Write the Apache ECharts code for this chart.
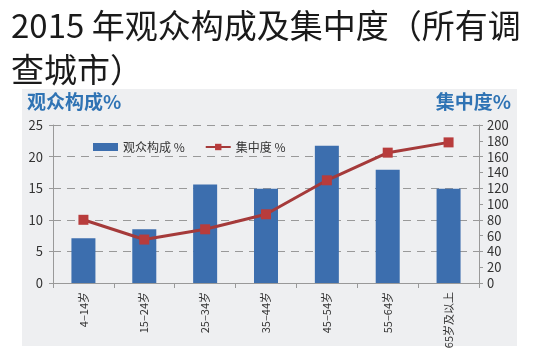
<!DOCTYPE html>
<html>
<head>
<meta charset="utf-8">
<script src="https://cdn.jsdelivr.net/npm/echarts@6/dist/echarts.min.js"></script>
<style>
  html, body { margin: 0; padding: 0; background: #fff; }
  #chart { width: 540px; height: 351px; }
</style>
</head>
<body>
<div id="chart"></div>
<script>
// 观众构成及集中度
const categories = ['4–14岁', '15–24岁', '25–34岁', '35–44岁', '45–54岁', '55–64岁', '65岁及以上'];
const shareValues = [7.1, 8.5, 15.6, 14.9, 21.7, 17.9, 14.9];       // 观众构成 %
const concValues = [80, 55, 68, 87, 130, 165, 178];                 // 集中度 %
const leftTicks = { min: 0, max: 25, interval: 5 };
const rightTicks = { min: 0, max: 200, interval: 20 };

const font = '"Noto Sans CJK SC", "Noto Sans", sans-serif';
const chart = echarts.init(document.getElementById('chart'));

const option = {
  backgroundColor: '#fff',
  textStyle: { fontFamily: font },
  title: {
    text: '2015 年观众构成及集中度（所有调\n查城市）',
    left: 6,
    top: -2,
    textStyle: { fontSize: 33, fontWeight: 'normal', color: '#1a1a1a', lineHeight: 44, fontFamily: font }
  },
  graphic: [
    { type: 'rect', left: 22, top: 89, shape: { width: 495, height: 257 }, style: { fill: '#eeeff1' }, z: -1 },
    { type: 'text', left: 27, top: 92, style: { text: '观众构成%', fill: '#2f73b4', font: 'bold 19px ' + font } },
    { type: 'text', right: 29, top: 92, style: { text: '集中度%', fill: '#2f73b4', font: 'bold 19px ' + font } }
  ],
  legend: {
    left: 88,
    top: 136,
    itemGap: 20,
    itemWidth: 25,
    itemHeight: 8,
    textStyle: { fontSize: 12, color: '#333' },
    data: [
      { name: '观众构成 %', icon: 'rect' },
      { name: '集中度 %' }
    ]
  },
  grid: { left: 53, right: 61, top: 125, bottom: 68, outerBoundsMode: 'none' },
  xAxis: {
    type: 'category',
    data: categories,
    axisLine: { lineStyle: { color: '#999' } },
    axisTick: { show: true, alignWithLabel: false, length: 5, lineStyle: { color: '#999' } },
    axisLabel: { rotate: 90, color: '#333', fontSize: 11, margin: 9 }
  },
  yAxis: [
    {
      type: 'value',
      min: leftTicks.min, max: leftTicks.max, interval: leftTicks.interval,
      axisLine: { show: true, lineStyle: { color: '#999' } },
      axisTick: { show: true, length: 4, lineStyle: { color: '#999' } },
      axisLabel: { color: '#333', fontSize: 13, margin: 10 },
      splitLine: { lineStyle: { color: '#999', type: [8, 6] } }
    },
    {
      type: 'value',
      min: rightTicks.min, max: rightTicks.max, interval: rightTicks.interval,
      axisLine: { show: true, lineStyle: { color: '#999' } },
      axisTick: { show: true, length: 4, lineStyle: { color: '#999' } },
      axisLabel: { color: '#333', fontSize: 13, margin: 8 },
      splitLine: { show: false }
    }
  ],
  series: [
    {
      name: '观众构成 %',
      type: 'bar',
      data: shareValues,
      barWidth: 24,
      itemStyle: { color: '#3c6eae' }
    },
    {
      name: '集中度 %',
      type: 'line',
      yAxisIndex: 1,
      data: concValues,
      symbol: 'rect',
      symbolSize: 10,
      lineStyle: { color: '#a53a3a', width: 3 },
      itemStyle: { color: '#b83c3c' }
    }
  ]
};
chart.setOption(option);
</script>
</body>
</html>
